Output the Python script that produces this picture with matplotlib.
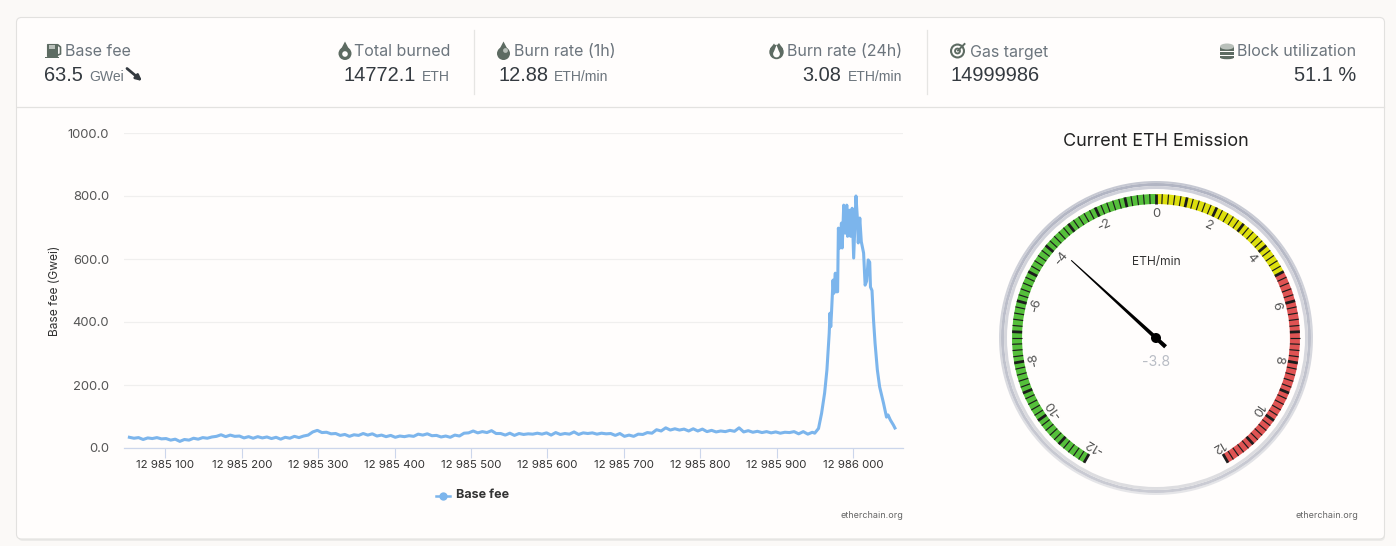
# -*- coding: utf-8 -*-
"""
Base fee chart + ETH emission gauge dashboard
"""
import numpy as np
import matplotlib
matplotlib.use('Agg')
from matplotlib import pyplot as plt
from matplotlib.patches import Circle, Ellipse, FancyBboxPatch, Polygon, Rectangle, Wedge

plt.rcParams['font.family'] = ['Inter', 'DejaVu Sans']

W, H = 1396, 546
PX = 0.72  # px -> pt at dpi 100

# base fee, blocks are offsets from 12 985 000
flat_blocks = [53, 59, 65, 71, 77, 83, 89, 95, 101, 107, 113, 119, 125, 131, 137, 143, 149, 155, 161, 167,
               173, 179, 185, 191, 197, 203, 209, 215, 221, 227, 233, 239, 245, 251, 257, 263, 269, 275, 281, 287,
               293, 299, 305, 311, 317, 323, 329, 335, 341, 347, 353, 359, 365, 371, 377, 383, 389, 395, 401, 407,
               413, 419, 425, 431, 437, 443, 449, 455, 461, 467, 473, 479, 485, 491, 497, 503, 509, 515, 521, 527,
               533, 539, 545, 551, 557, 563, 569, 575, 581, 587, 593, 599, 605, 611, 617, 623, 629, 635, 641, 647,
               653, 659, 665, 671, 677, 683, 689, 695, 701, 707, 713, 719, 725, 731, 737, 743, 749, 755, 761, 767,
               773, 779, 785, 791, 797, 803, 809, 815, 821, 827, 833, 839, 845, 851, 857, 863, 869, 875, 881, 887,
               893, 899, 905, 911, 917, 923, 929, 935, 941, 947]
flat_fee = [34, 31, 33, 27, 32, 30, 33, 29, 30, 25, 28, 21, 27, 25, 31, 28, 33, 31, 35, 37,
            42, 36, 41, 37, 38, 32, 36, 31, 36, 32, 35, 30, 34, 28, 34, 31, 37, 33, 38, 41,
            51, 56, 49, 50, 45, 46, 40, 43, 37, 42, 40, 46, 41, 45, 38, 41, 36, 40, 34, 38,
            36, 39, 37, 44, 41, 45, 39, 40, 35, 38, 34, 41, 38, 47, 48, 54, 48, 52, 49, 55,
            46, 46, 41, 47, 40, 46, 43, 45, 44, 47, 44, 48, 41, 49, 43, 46, 44, 51, 43, 48,
            46, 48, 44, 47, 45, 46, 40, 46, 37, 41, 37, 44, 43, 49, 47, 58, 54, 64, 57, 61,
            57, 60, 54, 61, 54, 60, 52, 56, 51, 54, 52, 56, 53, 64, 51, 55, 50, 53, 49, 52,
            48, 51, 47, 50, 49, 52, 45, 52, 44, 50]
mid_blocks = [950, 955, 959, 963, 966, 969, 970, 971, 972, 974, 975, 977, 978, 980, 981, 983, 985, 986, 988,
              990, 992, 993, 995, 997, 999, 1001, 1004, 1006, 1007, 1009, 1011, 1014, 1016, 1018, 1020, 1022,
              1023, 1025, 1027, 1029, 1032, 1035, 1040, 1044, 1046, 1049, 1053, 1055]
mid_fee = [47, 62, 110, 175, 248, 365, 428, 385, 430, 533, 491, 555, 496, 496, 698, 635, 714, 635, 771,
           682, 771, 672, 755, 672, 761, 603, 800, 724, 651, 730, 655, 619, 517, 530, 597, 590,
           511, 500, 406, 333, 248, 194, 143, 98, 105, 89, 73, 63.5]

x_ticks = [100, 200, 300, 400, 500, 600, 700, 800, 900, 1000]
x_labels = ['12 985 100', '12 985 200', '12 985 300', '12 985 400', '12 985 500',
            '12 985 600', '12 985 700', '12 985 800', '12 985 900', '12 986 000']
y_ticks = [0, 200, 400, 600, 800, 1000]
y_labels = ['0.0', '200.0', '400.0', '600.0', '800.0', '1000.0']

# gauge
gauge_value = -3.8
gauge_min, gauge_max = -12, 12
gauge_bands = [(-12, 0, '#55BF3B'), (0, 5, '#DDDF0D'), (5, 12, '#DF5353')]
gauge_labels = [-12, -10, -8, -6, -4, -2, 0, 2, 4, 6, 8, 10, 12]

BG = '#fffdfc'
LABEL = '#6c757d'
VALUE = '#343a40'
ICON = '#5d6b62'
ICON2 = '#b9c0ba'
NUMFONT = ['Liberation Sans', 'DejaVu Sans']

fig = plt.figure(figsize=(W / 100, H / 100), dpi=100, facecolor='#fbf9f7')
bg = fig.add_axes([0, 0, 1, 1])
bg.set_xlim(0, W)
bg.set_ylim(H, 0)
bg.axis('off')

# card
bg.add_patch(FancyBboxPatch((18, 20), 1367, 521, boxstyle='round,pad=0,rounding_size=5',
                            fc='#ecebe9', ec='none'))
bg.add_patch(FancyBboxPatch((16.5, 17.5), 1368, 521.5, boxstyle='round,pad=0,rounding_size=5',
                            fc=BG, ec='#e2e1df', lw=0.8))
bg.plot([17, 1384], [106.5, 106.5], color='#e3e2e0', lw=0.9)
bg.plot([473.5, 473.5], [30, 94], color='#e6e5e3', lw=0.9)
bg.plot([926.5, 926.5], [30, 94], color='#e6e5e3', lw=0.9)


def label(x, text, ha='left'):
    bg.text(x, 56.5, text, fontsize=16 * PX, color=LABEL, ha=ha, va='baseline')


def value(x, text, unit=None, ha='left', gap=6):
    # number + small unit, right aligned blocks are placed from the unit's end
    if ha == 'left':
        t = bg.text(x, 81, text, fontsize=20 * PX, color=VALUE, ha='left', va='baseline', family=NUMFONT)
        fig.canvas.draw()
        end = t.get_window_extent().x1
        if unit:
            bg.text(end + gap, 81, unit, fontsize=14 * PX, color=LABEL, ha='left', va='baseline', family=NUMFONT)
    else:
        t = bg.text(x, 81, unit, fontsize=14 * PX, color=LABEL, ha='right', va='baseline', family=NUMFONT)
        fig.canvas.draw()
        start = t.get_window_extent().x0
        bg.text(start - gap, 81, text, fontsize=20 * PX, color=VALUE, ha='right', va='baseline', family=NUMFONT)


def drop(cx, cy, r, color=ICON):
    bg.add_patch(Circle((cx, cy + 2), r, fc=color, ec='none'))
    bg.add_patch(Polygon([(cx - r * 0.85, cy + 0.5), (cx, cy - r - 3.5), (cx + r * 0.85, cy + 0.5)], fc=color, ec='none'))


# icons
bg.add_patch(Rectangle((46.5, 43.5), 10.5, 12.5, fc=ICON, ec=ICON, lw=0.8))
bg.add_patch(Rectangle((48.5, 45), 6.5, 3.5, fc=ICON2, ec='none'))
bg.add_patch(Rectangle((45, 56.5), 14, 1.6, fc=ICON, ec='none'))
bg.plot([58, 60.5, 60.5, 58], [45, 47, 54, 55], color=ICON, lw=1.2)

drop(345, 51.5, 6.5)
bg.add_patch(Circle((345, 54), 2.8, fc=BG, ec='none'))

drop(503.5, 51.5, 6.5)
bg.add_patch(Circle((505.5, 50.5), 2.4, fc=ICON2, ec='none'))

bg.add_patch(Circle((776.5, 52), 7.2, fc=ICON, ec='none'))
bg.add_patch(Polygon([(770, 49), (774, 43.5), (776, 46.5), (779, 43), (783, 49)], fc=ICON, ec='none'))
drop(776.5, 52, 3.4, color=BG)

bg.add_patch(Circle((957.5, 51), 7.5, fc=ICON, ec='none'))
bg.add_patch(Circle((957.5, 51), 5.4, fc=BG, ec='none'))
bg.add_patch(Circle((957.5, 51), 3.4, fc=ICON, ec='none'))
bg.add_patch(Circle((957.5, 51), 1.5, fc=BG, ec='none'))
bg.plot([958, 964.5], [50.5, 44], color=ICON, lw=1.4)

bg.add_patch(Rectangle((1220, 47), 14, 11, fc=ICON, ec='none'))
bg.add_patch(Ellipse((1227, 57.5), 14, 3.5, fc=ICON, ec='none'))
bg.add_patch(Rectangle((1220, 51), 14, 1, fc=BG, ec='none'))
bg.add_patch(Rectangle((1220, 55), 14, 1, fc=BG, ec='none'))
bg.add_patch(Ellipse((1227, 46.5), 14, 6, fc=ICON2, ec='none'))

# header text
label(65, 'Base fee')
value(44, '63.5', 'GWei')
bg.annotate('', xy=(142, 81), xytext=(127, 68.5),
            arrowprops=dict(arrowstyle='-|>', color=VALUE, lw=2, mutation_scale=8, shrinkA=0, shrinkB=0))
label(450, 'Total burned', ha='right')
value(450, '14772.1', 'ETH', ha='right')
label(514, 'Burn rate (1h)')
value(498, '12.88', 'ETH/min')
label(902, 'Burn rate (24h)', ha='right')
value(902, '3.08', 'ETH/min', ha='right')
label(970, 'Gas target')
value(951, '14999986')
label(1356, 'Block utilization', ha='right')
bg.text(1356, 81, '51.1 %', fontsize=20 * PX, color=VALUE, ha='right', va='baseline', family=NUMFONT)

# line chart
ax = fig.add_axes([124 / W, 1 - 448 / H, (903 - 124) / W, (448 - 133) / H])
ax.patch.set_alpha(0)
blocks = np.array(flat_blocks + mid_blocks)
fee = np.array(flat_fee + mid_fee)
ax.plot(blocks, fee, color='#7cb5ec', lw=2.2, solid_joinstyle='round')
ax.set_xlim(100 - 41.3 / 0.764, 100 + (903 - 165.3) / 0.764)
ax.set_ylim(0, 1000)
for s in ['top', 'right', 'left']:
    ax.spines[s].set_visible(False)
ax.spines['bottom'].set_color('#ccd6eb')
ax.spines['bottom'].set_linewidth(0.9)
ax.grid(axis='y', color='#f0efee', lw=0.9)
ax.set_axisbelow(True)
ax.set_xticks(x_ticks)
ax.set_xticklabels(x_labels, fontsize=11.5 * PX, color='#333333')
ax.set_yticks(y_ticks)
ax.set_yticklabels(y_labels, fontsize=13 * PX, color='#555555')
ax.tick_params(axis='x', length=10 * PX, width=0.8, color='#ccd6eb', pad=1.5)
ax.tick_params(axis='y', length=0, pad=15 * PX)
bg.text(54.5, 290.5, 'Base fee (Gwei)', fontsize=12 * PX, color='#333333', rotation=90, ha='center', va='center')

# legend + credits drawn on the page layer
bg.plot([436, 450], [495.5, 495.5], color='#7cb5ec', lw=1.8)
bg.plot([443], [495.5], color='#7cb5ec', marker='o', ms=6, mec='none')
bg.text(456, 495.5, 'Base fee', fontsize=12.5 * PX, fontweight='bold', color='#333333', va='center')
bg.text(903, 515.5, 'etherchain.org', fontsize=9 * PX, color='#666666', ha='right', va='center')
bg.text(1358, 515.5, 'etherchain.org', fontsize=9 * PX, color='#666666', ha='right', va='center')

# gauge, all in page pixels
CX, CY = 1156, 338
bg.text(CX, 141.5, 'Current ETH Emission', fontsize=18 * PX, color='#222222', ha='center', va='center')


def ang(v):
    # dial value -> clockwise degrees from the top
    return (v - gauge_min) / (gauge_max - gauge_min) * 300 - 150


def to_xy(a, r):
    t = np.radians(a)
    return CX + r * np.sin(t), CY - r * np.cos(t)


def mix(c1, c2, f):
    c1 = np.array(matplotlib.colors.to_rgb(c1))
    c2 = np.array(matplotlib.colors.to_rgb(c2))
    return c1 + (c2 - c1) * f


# rim rings, colour runs from top to bottom, gradient image clipped to each ring
rings = [(157, 155, '#c6c8d2', '#e6e6e9'), (155, 152, '#b2b5c3', '#cbccd4'), (152, 149, '#cfd0d9', '#dedee1')]
for r1, r0, top, bot in rings:
    fr = np.linspace(0, 1, 64)[:, None, None]
    grad = mix(top, bot, fr)
    im = bg.imshow(grad, extent=(CX - r1, CX + r1, CY + r1, CY - r1), aspect='auto', interpolation='bilinear', zorder=1)
    clip = Wedge((CX, CY), r1, 0, 360, width=r1 - r0, transform=bg.transData)
    im.set_clip_path(clip)
bg.set_xlim(0, W)
bg.set_ylim(H, 0)

# plot bands, y axis is inverted so patch degrees run clockwise on screen
for lo, hi, color in gauge_bands:
    bg.add_patch(Wedge((CX, CY), 144, ang(lo) - 90, ang(hi) - 90, width=10, fc=color, ec='none', zorder=2))

# one major tick per unit, five minor steps in each
for i in range((gauge_max - gauge_min) * 5 + 1):
    v = gauge_min + i / 5
    a = ang(v)
    major = i % 5 == 0
    x0, y0 = to_xy(a, 134)
    x1, y1 = to_xy(a, 144)
    bg.plot([x0, x1], [y0, y1], color='#1c1c1c', lw=2.0 if major else 0.85, solid_capstyle='butt', zorder=3)

for v in gauge_labels:
    a = ang(v)
    x, y = to_xy(a, 124)
    bg.text(x, y, str(v), fontsize=13 * PX, color='#555555', ha='center', va='center',
            rotation=-a, rotation_mode='anchor')

bg.text(CX, 262, 'ETH/min', fontsize=12 * PX, color='#333333', ha='center', va='center')
bg.text(CX, 362.5, str(gauge_value), fontsize=14 * PX, color='#b8bcc4', ha='center', va='center')

# needle
a = ang(gauge_value)
t = np.radians(a)
nx, ny = np.cos(t), np.sin(t)
tip = to_xy(a, 115)
tail = to_xy(a, -13)
bg.add_patch(Polygon([(tail[0] - nx * 2.1, tail[1] - ny * 2.1), (tip[0] - nx * 0.5, tip[1] - ny * 0.5),
                      (tip[0] + nx * 0.5, tip[1] + ny * 0.5), (tail[0] + nx * 2.1, tail[1] + ny * 2.1)],
                     fc='black', ec='none', zorder=4))
bg.add_patch(Circle((CX, CY), 5, fc='black', ec='none', zorder=4))

fig.savefig('out.png', dpi=100, facecolor=fig.get_facecolor())
